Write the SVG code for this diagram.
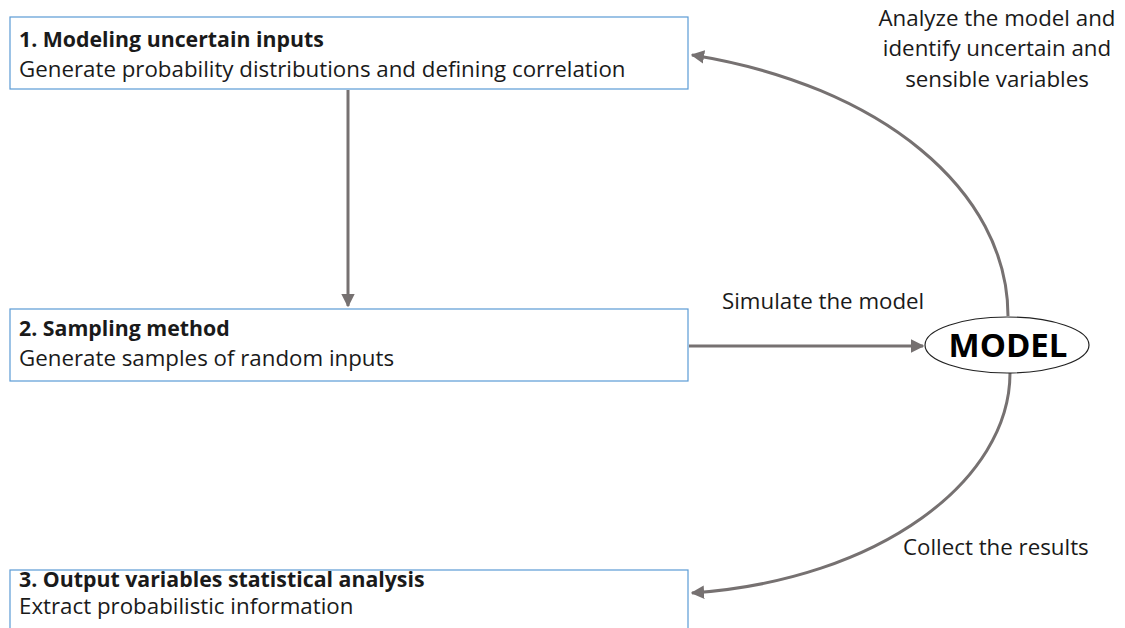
<svg xmlns="http://www.w3.org/2000/svg" width="1125" height="628" viewBox="0 0 1125 628">
<defs>
<style>
.box{fill:#fff;stroke:#5B9BD5;stroke-width:1.2}
.t{font-family:"Open Sans","Noto Sans",sans-serif;font-size:22.3px;fill:#1a1a1a}
.b{font-weight:bold;font-size:21.3px}
.c{fill:none;stroke:#767171;stroke-width:3}
.lbl{font-family:"Open Sans","Noto Sans",sans-serif;font-size:22.3px;fill:#1a1a1a}
</style>
<marker id="ah" viewBox="0 0 10 10" refX="9" refY="5" markerWidth="4.5" markerHeight="4.5" orient="auto" markerUnits="strokeWidth">
<path d="M0,0 L10,5 L0,10 z" fill="#767171"/>
</marker>
</defs>
<rect width="1125" height="628" fill="#fff"/>
<g id="connectors">
<line class="c" x1="348" y1="90" x2="348" y2="306" marker-end="url(#ah)"/>
<line class="c" x1="689" y1="346" x2="923" y2="346" marker-end="url(#ah)"/>
<path class="c" d="M1008,316 C1008,190 880,85 692,55" marker-end="url(#ah)"/>
<path class="c" d="M1010,373 C1010,480 880,580 692,593" marker-end="url(#ah)"/>
</g>
<g id="node1">
<rect class="box" x="10" y="17" width="678" height="72"/>
<text class="t b" x="19" y="47">1. Modeling uncertain inputs</text>
<text class="t" x="19" y="77">Generate probability distributions and defining correlation</text>
</g>
<g id="node2">
<rect class="box" x="10" y="309" width="678" height="72"/>
<text class="t b" x="19" y="336">2. Sampling method</text>
<text class="t" x="19" y="366">Generate samples of random inputs</text>
</g>
<g id="node3">
<rect class="box" x="10" y="570" width="678" height="72"/>
<text class="t b" x="19" y="587">3. Output variables statistical analysis</text>
<text class="t" x="19" y="614">Extract probabilistic information</text>
</g>
<g id="model">
<ellipse cx="1007" cy="345" rx="82" ry="28" fill="#fff" stroke="#222" stroke-width="1.2"/>
<text x="1008" y="357" text-anchor="middle" font-family="'Open Sans','Noto Sans',sans-serif" font-size="33" font-weight="bold" fill="#000">MODEL</text>
</g>
<g id="labels">
<text class="lbl" x="997" y="26" text-anchor="middle">Analyze the model and</text>
<text class="lbl" x="997" y="56" text-anchor="middle">identify uncertain and</text>
<text class="lbl" x="997" y="87" text-anchor="middle">sensible variables</text>
<text class="lbl" x="722" y="309">Simulate the model</text>
<text class="lbl" x="903" y="555">Collect the results</text>
</g>
</svg>
